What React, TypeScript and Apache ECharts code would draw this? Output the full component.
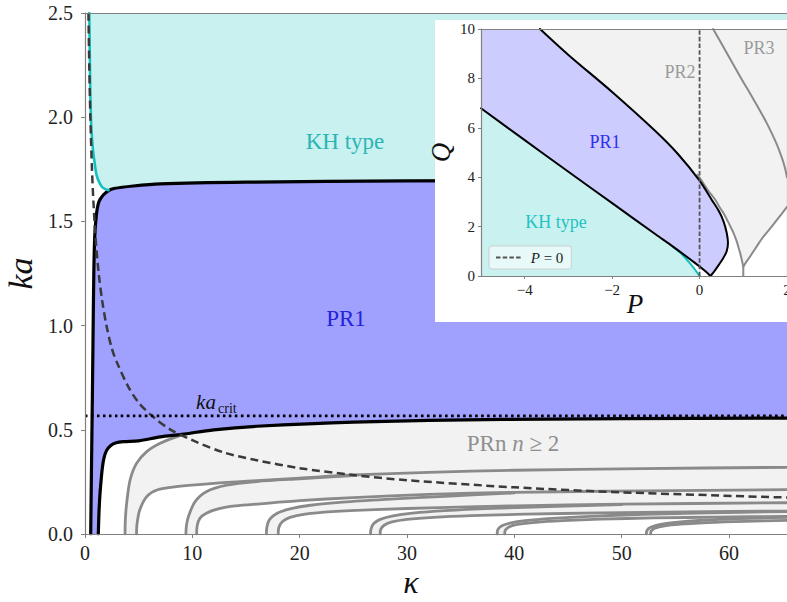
import React, { useEffect, useRef } from "react";
import * as echarts from "echarts";

// ---------- main panel: ka versus kappa ----------
const KAPPA_MAX = 65.4;
const KA_MAX = 2.5;
const KA_CRIT = 0.567;

const kappaTicks = [0, 10, 20, 30, 40, 50, 60];
const kaTicks = [0, 0.5, 1, 1.5, 2, 2.5];

// upper edge of the PR1 region (black)
const pr1Upper = [
  [0.53, 0], [0.6, 0.3], [0.68, 0.63], [0.75, 0.95], [0.82, 1.25], [0.9, 1.42],
  [1.0, 1.5], [1.12, 1.555], [1.3, 1.595], [1.7, 1.627], [2.2, 1.648], [2.7, 1.658],
  [4.5, 1.67], [7, 1.68], [15, 1.688], [30, 1.694], [65.4, 1.7],
];
// lower edge of the PR1 region (black)
const pr1Lower = [
  [1.24, 0], [1.3, 0.1], [1.38, 0.18], [1.47, 0.24], [1.6, 0.31], [1.75, 0.36],
  [2.0, 0.4], [2.4, 0.425], [2.9, 0.438], [3.6, 0.443], [5, 0.447], [7, 0.466],
  [9, 0.478], [12, 0.5], [16, 0.517], [25, 0.537], [39, 0.55], [65.4, 0.556],
];
// edge of the KH-type region (cyan)
const khBoundary = [
  [0.4, 2.5], [0.47, 2.2], [0.55, 2.0], [0.65, 1.9], [0.75, 1.84], [0.9, 1.78],
  [1.09, 1.72], [1.4, 1.68], [1.7, 1.66], [2.2, 1.65],
];
// dashed reference curve
const dashedCurve = [
  [0.32, 2.5], [0.4, 2.24], [0.5, 2.0], [0.65, 1.75], [0.8, 1.58], [1.0, 1.41],
  [1.3, 1.24], [1.6, 1.12], [2.0, 1.0], [2.5, 0.89], [3.0, 0.82], [4.0, 0.71],
  [5.0, 0.63], [6.4, 0.56], [8, 0.5], [10, 0.45], [13, 0.39], [16, 0.354],
  [20, 0.316], [25, 0.283], [30, 0.258], [40, 0.224], [50, 0.2], [65.4, 0.175],
];
const critLine = [[0, KA_CRIT], [KAPPA_MAX, KA_CRIT]];

// higher parametric resonance bands (grey), upper and lower edge of each
const pr2Upper = [
  [3.73, 0], [3.76, 0.07], [3.88, 0.147], [4.2, 0.259], [4.8, 0.339], [5.75, 0.395],
  [7, 0.435], [8.5, 0.466], [10, 0.487],
];
const pr2Lower = [
  [4.8, 0], [4.85, 0.05], [5.1, 0.115], [5.75, 0.179], [6.7, 0.211], [8.5, 0.227],
  [12, 0.243], [16, 0.256], [20, 0.268], [25, 0.283], [32, 0.296], [40, 0.306],
  [52, 0.314], [65.4, 0.32],
];
const pr3Upper = [
  [9.4, 0], [9.45, 0.04], [9.63, 0.083], [10.25, 0.155], [11.3, 0.203], [13.2, 0.234],
  [16, 0.252], [20, 0.265], [25, 0.28],
];
const pr3Lower = [
  [10.4, 0], [10.45, 0.04], [10.7, 0.075], [11.3, 0.1], [12.5, 0.122], [14, 0.135],
  [16.3, 0.145], [20, 0.16], [25, 0.175], [32, 0.19], [40, 0.2], [52, 0.207],
  [65.4, 0.213],
];
const pr4Upper = [
  [16.9, 0], [16.95, 0.035], [17.2, 0.07], [17.9, 0.1], [19.2, 0.122], [21, 0.138],
  [24, 0.153], [28, 0.166], [34, 0.182], [40, 0.197],
];
const pr4Lower = [
  [18.0, 0], [18.05, 0.03], [18.4, 0.06], [19.1, 0.08], [20.5, 0.095], [23, 0.107],
  [27, 0.117], [33, 0.127], [40, 0.135], [50, 0.143], [65.4, 0.15],
];
const pr5Upper = [
  [26.6, 0], [26.65, 0.025], [26.9, 0.05], [27.5, 0.07], [28.7, 0.087], [30.5, 0.1],
  [33.5, 0.112], [38, 0.123], [44, 0.133], [50, 0.141],
];
const pr5Lower = [
  [27.5, 0], [27.55, 0.022], [27.9, 0.043], [28.6, 0.058], [30, 0.07], [32.5, 0.08],
  [36, 0.088], [41, 0.095], [48, 0.101], [56, 0.106], [65.4, 0.11],
];
const pr6Upper = [
  [38.4, 0], [38.45, 0.02], [38.8, 0.038], [39.6, 0.052], [41, 0.064], [43.5, 0.075],
  [47, 0.085], [52, 0.094], [58, 0.101], [65.4, 0.108],
];
const pr6Lower = [
  [39.1, 0], [39.15, 0.018], [39.5, 0.034], [40.3, 0.046], [42, 0.056], [44.5, 0.064],
  [48, 0.071], [53, 0.077], [59, 0.081], [65.4, 0.085],
];
const pr7Upper = [
  [52.3, 0], [52.35, 0.017], [52.7, 0.032], [53.5, 0.045], [55, 0.056], [57.5, 0.066],
  [61, 0.074], [65.4, 0.08],
];
const pr7Lower = [
  [52.7, 0], [52.75, 0.015], [53.1, 0.028], [54, 0.039], [55.5, 0.047], [58, 0.055],
  [61.5, 0.061], [65.4, 0.065],
];

// ---------- inset: Q versus P ----------
const P_MIN = -5;
const P_MAX = 2;
const Q_MAX = 10;
const pTicks = [-4, -2, 0, 2];
const qTicks = [0, 2, 4, 6, 8, 10];

const insetPR1Upper = [
  [-3.65, 10], [-3, 8.95], [-2, 7.45], [-1, 5.85], [-0.5, 4.95], [0, 3.86],
  [0.28, 3.08], [0.45, 2.6], [0.55, 2.2], [0.62, 1.75], [0.65, 1.35], [0.62, 1.0],
  [0.54, 0.72], [0.44, 0.45], [0.34, 0.2], [0.25, 0],
];
const insetPR1Lower = [
  [-5, 6.79], [-4, 5.5], [-3, 4.22], [-2, 2.95], [-1, 1.68], [-0.6, 1.18],
  [-0.1, 0.52], [0.1, 0.24], [0.25, 0],
];
const insetKH = [
  [-0.6, 1.17], [-0.45, 0.96], [-0.32, 0.72], [-0.2, 0.47], [-0.1, 0.25],
  [-0.04, 0.1], [0, 0],
];
const insetPR2Inner = [
  [-0.05, 4.1], [0.05, 3.85], [0.2, 3.45], [0.36, 3.08], [0.47, 2.75], [0.55, 2.54],
  [0.65, 2.2], [0.72, 1.95], [0.78, 1.73], [0.85, 1.4], [0.9, 1.1], [0.93, 0.92],
  [0.97, 0.62], [1.0, 0.38],
];
const insetCusp = [[1.0, 0.38], [1.0, 0]];
const insetPR2Outer = [
  [1.0, 0.38], [1.08, 0.6], [1.16, 0.8], [1.3, 1.18], [1.46, 1.59], [1.65, 2.0],
  [1.85, 2.45], [2.0, 2.8],
];
const insetPR3Edge = [
  [0.31, 10], [0.6, 9.1], [0.93, 8.07], [1.25, 7.1], [1.54, 6.18], [1.75, 5.4],
  [1.88, 4.8], [1.95, 4.4], [2.0, 4.0],
];
const insetP0 = [[0, 0], [0, Q_MAX]];

// ---------- styling ----------
const FONT = "Liberation Serif, DejaVu Serif, serif";
const SPINE = "#808080";
const CYAN_FILL = "#c9f1f0";
const BLUE_FILL = "#a0a0ff";
const BLUE_FILL_LIGHT = "#ccccff";
const GREY_FILL = "#f2f2f2";
const BAND_LINE = "#8a8a8a";
const CYAN_LINE = "#14bfbf";

type Pt = number[];

const reversed = (pts: Pt[]) => pts.slice().reverse();
// closed gap between the lower edge of one band and the upper edge of the next
const gapBetween = (lower: Pt[], nextUpper: Pt[]) => {
  const end = nextUpper[nextUpper.length - 1][0];
  return [...lower.filter((p) => p[0] <= end), ...reversed(nextUpper)];
};

const axisPair = (inset: boolean) =>
  inset ? { xAxisIndex: 2, yAxisIndex: 1 } : { xAxisIndex: 0, yAxisIndex: 0 };

const area = (pts: Pt[], color: string, inset: boolean, z: number) => ({
  type: "custom",
  coordinateSystem: "cartesian2d",
  ...axisPair(inset),
  z,
  silent: true,
  data: [pts[0]],
  renderItem: (_p: any, api: any) => ({
    type: "polygon",
    shape: { points: pts.map((p) => api.coord(p)) },
    style: { fill: color, stroke: null },
  }),
});

const curve = (
  pts: Pt[],
  color: string,
  width: number,
  inset: boolean,
  z: number,
  dash: any = "solid",
  name?: string
) => ({
  type: "line",
  name,
  data: pts,
  ...axisPair(inset),
  z,
  symbol: "none",
  smooth: 0.3,
  silent: true,
  lineStyle: { color, width, type: dash, cap: dash === "solid" ? "round" : "butt", join: "round" },
  emphasis: { disabled: true },
});

const txt = (
  x: number,
  y: number,
  text: string,
  size: number,
  color: string,
  z: number,
  extra: any = {}
) => ({
  type: "text",
  x,
  y,
  z,
  silent: true,
  style: {
    text,
    fill: color,
    fontFamily: FONT,
    fontSize: size,
    align: "center",
    verticalAlign: "middle",
    ...extra,
  },
});

export default function App() {
  const ref = useRef<HTMLDivElement>(null);

  useEffect(() => {
    if (!ref.current) return;
    const chart = echarts.init(ref.current, undefined, { renderer: "svg" });

    const mainBands = [pr2Upper, pr2Lower, pr3Upper, pr3Lower, pr4Upper, pr4Lower,
      pr5Upper, pr5Lower, pr6Upper, pr6Lower, pr7Upper, pr7Lower];

    const khArea = [...khBoundary, ...pr1Upper.filter((p) => p[0] > 2.2), [KAPPA_MAX, KA_MAX]];
    const pr1Area = [...pr1Upper, ...reversed(pr1Lower)];
    const lastA = pr2Upper[pr2Upper.length - 1][0];
    const prnArea = [...pr2Upper, ...pr1Lower.filter((p) => p[0] > lastA), [KAPPA_MAX, 0]];
    const stableGaps = [
      gapBetween(pr2Lower, pr3Upper),
      gapBetween(pr3Lower, pr4Upper),
      gapBetween(pr4Lower, pr5Upper),
      gapBetween(pr5Lower, pr6Upper),
      gapBetween(pr6Lower, pr7Upper),
      [...pr7Lower, [KAPPA_MAX, 0]],
    ];

    const insetKHArea = [[P_MIN, 0], ...insetPR1Lower.filter((p) => p[0] < -0.6), ...insetKH];
    const insetPR1Area = [...insetPR1Upper, ...reversed(insetPR1Lower), [P_MIN, Q_MAX]];
    const insetGreyArea = [...insetPR1Upper, [P_MAX, 0], [P_MAX, Q_MAX]];
    const insetGap1 = [
      ...insetPR1Upper.filter((p) => p[1] <= 4.0 && p[0] >= 0),
      [1.0, 0],
      ...reversed(insetPR2Inner),
    ];
    const insetGap2 = [[1.0, 0], ...insetPR2Outer, [P_MAX, 0]];

    const tickLabel = { color: "#222", fontFamily: FONT };
    const line = { lineStyle: { color: SPINE, width: 1.2 } };

    const option: any = {
      animation: false,
      backgroundColor: "#ffffff",
      grid: [
        { left: 85, top: 13, width: 702, height: 521, show: false, containLabel: false, outerBoundsMode: "none" },
        { left: 481, top: 29, width: 306, height: 247, show: false, containLabel: false, outerBoundsMode: "none" },
      ],
      xAxis: [
        {
          gridIndex: 0, type: "value", min: 0, max: KAPPA_MAX, z: 5,
          axisLine: { show: true, onZero: false, ...line },
          axisTick: { show: true, length: 4, customValues: kappaTicks, lineStyle: { color: SPINE } },
          axisLabel: { ...tickLabel, fontSize: 20, margin: 9, customValues: kappaTicks },
          splitLine: { show: false },
        },
        {
          gridIndex: 0, type: "value", min: 0, max: KAPPA_MAX, position: "top", z: 5,
          axisLine: { show: true, onZero: false, ...line },
          axisTick: { show: false }, axisLabel: { show: false }, splitLine: { show: false },
        },
        {
          gridIndex: 1, type: "value", min: P_MIN, max: P_MAX, z: 14,
          axisLine: { show: true, onZero: false, ...line },
          axisTick: { show: true, length: 3, customValues: pTicks, lineStyle: { color: SPINE } },
          axisLabel: {
            ...tickLabel, fontSize: 15, margin: 6, customValues: pTicks,
            formatter: (v: number) => (v < 0 ? "\u2212" + Math.abs(v) : String(v)),
          },
          splitLine: { show: false },
        },
        {
          gridIndex: 1, type: "value", min: P_MIN, max: P_MAX, position: "top", z: 14,
          axisLine: { show: true, onZero: false, ...line },
          axisTick: { show: false }, axisLabel: { show: false }, splitLine: { show: false },
        },
      ],
      yAxis: [
        {
          gridIndex: 0, type: "value", min: 0, max: KA_MAX, z: 5,
          axisLine: { show: true, onZero: false, ...line },
          axisTick: { show: true, length: 4, customValues: kaTicks, lineStyle: { color: SPINE } },
          axisLabel: {
            ...tickLabel, fontSize: 20, margin: 12, customValues: kaTicks,
            formatter: (v: number) => v.toFixed(1),
          },
          splitLine: { show: false },
          name: "ka", nameLocation: "middle", nameRotate: 90, nameGap: 42,
          nameTextStyle: { fontFamily: FONT, fontStyle: "italic", fontSize: 34, color: "#111" },
        },
        {
          gridIndex: 1, type: "value", min: 0, max: Q_MAX, z: 14,
          axisLine: { show: true, onZero: false, ...line },
          axisTick: { show: true, length: 3, customValues: qTicks, lineStyle: { color: SPINE } },
          axisLabel: { ...tickLabel, fontSize: 15, margin: 6, customValues: qTicks },
          splitLine: { show: false },
          name: "Q", nameLocation: "middle", nameRotate: 90, nameGap: 27,
          nameTextStyle: { fontFamily: FONT, fontStyle: "italic", fontSize: 27, color: "#111" },
        },
        {
          gridIndex: 1, type: "value", min: 0, max: Q_MAX, position: "right", z: 14,
          axisLine: { show: true, onZero: false, ...line },
          axisTick: { show: false }, axisLabel: { show: false }, splitLine: { show: false },
        },
      ],
      legend: {
        left: 489, top: 246, z: 16, selectedMode: false,
        itemWidth: 26, itemHeight: 10,
        padding: [4, 8, 4, 6],
        backgroundColor: "rgba(255,255,255,0.55)",
        borderColor: "rgba(204,204,204,0.9)", borderWidth: 1, borderRadius: 3,
        itemStyle: { color: "rgba(0,0,0,0)", borderColor: "rgba(0,0,0,0)", borderWidth: 0, opacity: 0 },
        data: ["P = 0"],
        formatter: () => " {i|P} = 0",
        textStyle: {
          fontFamily: FONT, fontSize: 15, color: "#222",
          rich: { i: { fontFamily: FONT, fontSize: 15, fontStyle: "italic", color: "#222" } },
        },
      },
      series: [
        // main panel regions
        area(khArea, CYAN_FILL, false, 1),
        area(pr1Area, BLUE_FILL, false, 1),
        area(prnArea, GREY_FILL, false, 1),
        ...stableGaps.map((g) => area(g, "#ffffff", false, 1)),
        // main panel boundaries
        ...mainBands.map((b) => curve(b, BAND_LINE, 2.8, false, 2)),
        curve(pr1Lower, "#000000", 3.2, false, 3),
        curve(pr1Upper, "#000000", 3.2, false, 3),
        curve(khBoundary, CYAN_LINE, 2.6, false, 3),
        curve(dashedCurve, "#3a3a3a", 2.5, false, 4, [8, 4.5]),
        curve(critLine, "#000000", 2.6, false, 4, [2.6, 3.4]),
        // inset regions
        area(insetGreyArea, GREY_FILL, true, 11),
        area(insetGap1, "#ffffff", true, 11),
        area(insetGap2, "#ffffff", true, 11),
        area(insetKHArea, CYAN_FILL, true, 11),
        area(insetPR1Area, BLUE_FILL_LIGHT, true, 11),
        // inset boundaries
        curve(insetPR3Edge, BAND_LINE, 2, true, 12),
        curve(insetPR2Inner, BAND_LINE, 2, true, 12),
        curve(insetCusp, BAND_LINE, 2, true, 12),
        curve(insetPR2Outer, BAND_LINE, 2, true, 12),
        curve(insetKH, CYAN_LINE, 2, true, 12),
        curve(insetPR1Lower, "#000000", 2, true, 13),
        curve(insetPR1Upper, "#000000", 2, true, 13),
        curve(insetP0, "#555555", 1.8, true, 13, [4.5, 2.2], "P = 0"),
      ],
      graphic: [
        // inset background
        { type: "rect", z: 10, silent: true, shape: { x: 435, y: 20, width: 360, height: 302 }, style: { fill: "#ffffff" } },
        // axis titles
        txt(411, 582, "κ", 32, "#111", 6, { fontStyle: "italic" }),
        txt(635, 304, "P", 27, "#111", 15, { fontStyle: "italic" }),
        // main panel annotations
        txt(345, 141, "KH type", 23, "#2bb5b5", 6),
        txt(346, 318, "PR1", 23, "#2424d8", 6),
        txt(513, 443, "PRn {i|n} \u2265 2", 23, "#8f8f8f", 6, {
          rich: { i: { fontFamily: FONT, fontSize: 23, fontStyle: "italic", fill: "#8f8f8f" } },
        }),
        txt(206, 402, "ka", 21, "#111", 6, { fontStyle: "italic" }),
        txt(218, 408, "crit", 14, "#111", 6, { align: "left" }),
        // inset annotations
        txt(605, 142, "PR1", 18, "#3030ee", 15),
        txt(556, 222, "KH type", 18, "#1fc3c3", 15),
        txt(680, 72, "PR2", 18, "#9a9a9a", 15),
        txt(759, 48, "PR3", 18, "#9a9a9a", 15),
      ],
    };

    chart.setOption(option);
    return () => chart.dispose();
  }, []);

  return (
    <div
      ref={ref}
      style={{ position: "fixed", left: 0, top: 0, width: 787, height: 602, background: "#fff" }}
    />
  );
}
